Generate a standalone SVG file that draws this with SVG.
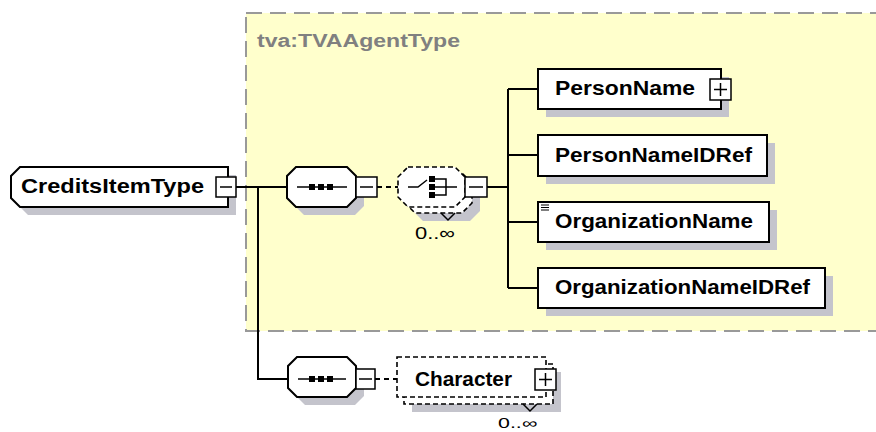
<svg xmlns="http://www.w3.org/2000/svg" width="876" height="432" viewBox="0 0 876 432">
<style>
.lbl{font-family:"Liberation Sans",Arial,sans-serif;font-weight:bold;font-size:20px;fill:#000}
.occ{font-family:"Liberation Sans",Arial,sans-serif;font-size:17px;fill:#000}
.sh{fill:#c4c4cc;stroke:none}
.box{fill:#fff;stroke:#000;stroke-width:2}
.dbox{fill:#fff;stroke:#000;stroke-width:1.6;stroke-dasharray:5 3}
.pm{fill:#fff;stroke:#000;stroke-width:1.5}
.ln{fill:none;stroke:#000;stroke-width:2}
.thin{fill:none;stroke:#000;stroke-width:1.5}
</style>
<rect width="876" height="432" fill="#fff"/>
<g id="tvaAgentType">
<rect x="246" y="13" width="700" height="318" fill="#ffffcc" stroke="#999" stroke-width="2" stroke-dasharray="16 8"/>
<text x="257" y="47" font-family="'Liberation Sans',Arial,sans-serif" font-weight="bold" font-size="18" fill="#808080" textLength="203" lengthAdjust="spacingAndGlyphs">tva:TVAAgentType</text>
</g>
<g id="connectors">
<line class="ln" x1="236" y1="187" x2="287" y2="187"/>
<path class="ln" d="M258,187 V379 H288"/>
<line class="ln" x1="377" y1="187" x2="398" y2="187" stroke-dasharray="5 4"/>
<line class="ln" x1="487" y1="187" x2="508" y2="187"/>
<path class="ln" d="M508,89 V288"/>
<line class="ln" x1="508" y1="89" x2="538" y2="89"/>
<line class="ln" x1="508" y1="155" x2="538" y2="155"/>
<line class="ln" x1="508" y1="222" x2="538" y2="222"/>
<line class="ln" x1="508" y1="288" x2="538" y2="288"/>
<line class="ln" x1="375" y1="379" x2="397" y2="379" stroke-dasharray="5 4"/>
</g>
<g id="CreditsItemType">
<polygon class="sh" points="28,175 236,175 236,215 28,215 19,206 19,184"/>
<polygon class="box" points="20,167 228,167 228,207 20,207 11,198 11,176"/>
<text class="lbl" x="21" y="193" textLength="183" lengthAdjust="spacingAndGlyphs">CreditsItemType</text>
<rect class="pm" x="216" y="177" width="20" height="20"/>
<line class="thin" x1="220" y1="187" x2="232" y2="187"/>
</g>
<g id="sequence1">
<polygon class="sh" points="304,175 355,175 364,184 364,206 355,215 304,215 295,206 295,184"/>
<polygon class="box" points="296,167 347,167 356,176 356,198 347,207 296,207 287,198 287,176"/>
<line class="thin" x1="297" y1="187" x2="347" y2="187"/>
<rect x="309" y="184" width="6" height="6"/>
<rect x="318" y="184" width="6" height="6"/>
<rect x="327" y="184" width="6" height="6"/>
<rect class="pm" x="356" y="177" width="21" height="20"/>
<line class="thin" x1="360" y1="187" x2="373" y2="187"/>
</g>
<g id="choice">
<polygon class="sh" points="423,181 470,181 480,191 480,211 470,221 423,221 413,211 413,191"/>
<polygon class="dbox" points="415,173 462,173 472,183 472,203 462,213 415,213 405,203 405,183"/>
<polygon class="dbox" points="408,167 455,167 465,177 465,197 455,207 408,207 398,197 398,177"/>
<path class="thin" d="M441,213 L448,220 L455,213"/>
<path class="thin" d="M408,187 H418 L427,180"/>
<rect x="429" y="176" width="6" height="6"/>
<rect x="429" y="184" width="6" height="6"/>
<rect x="429" y="192" width="6" height="6"/>
<path class="thin" d="M435,179 H446 V195 H435 M435,187 H457"/>
<rect class="pm" x="465" y="177" width="22" height="20"/>
<line class="thin" x1="469" y1="187" x2="483" y2="187"/>
<text class="occ" x="415" y="239" textLength="40" lengthAdjust="spacingAndGlyphs">0..∞</text>
</g>
<g id="PersonName">
<rect class="sh" x="546" y="77" width="183" height="40"/>
<rect class="box" x="538" y="69" width="183" height="40"/>
<text class="lbl" x="555" y="95" textLength="140" lengthAdjust="spacingAndGlyphs">PersonName</text>
<rect class="pm" x="710" y="79" width="21" height="21"/>
<path class="thin" d="M714,89.5 H727 M720.5,83 V96"/>
</g>
<g id="PersonNameIDRef">
<rect class="sh" x="546" y="143" width="229" height="41"/>
<rect class="box" x="538" y="135" width="229" height="41"/>
<text class="lbl" x="555" y="162" textLength="197" lengthAdjust="spacingAndGlyphs">PersonNameIDRef</text>
</g>
<g id="OrganizationName">
<rect class="sh" x="546" y="210" width="231" height="40"/>
<rect class="box" x="538" y="202" width="231" height="40"/>
<path d="M541,205 H549 M541,207.5 H549 M541,210 H549" stroke="#000" stroke-width="1" fill="none"/>
<text class="lbl" x="555" y="228" textLength="198" lengthAdjust="spacingAndGlyphs">OrganizationName</text>
</g>
<g id="OrganizationNameIDRef">
<rect class="sh" x="546" y="276" width="287" height="40"/>
<rect class="box" x="538" y="268" width="287" height="40"/>
<text class="lbl" x="555" y="294" textLength="255" lengthAdjust="spacingAndGlyphs">OrganizationNameIDRef</text>
</g>
<g id="sequence2">
<polygon class="sh" points="305,365 355,365 364,374 364,396 355,405 305,405 296,396 296,374"/>
<polygon class="box" points="297,357 347,357 356,366 356,388 347,397 297,397 288,388 288,366"/>
<line class="thin" x1="298" y1="379" x2="346" y2="379"/>
<rect x="309" y="376" width="6" height="6"/>
<rect x="318" y="376" width="6" height="6"/>
<rect x="327" y="376" width="6" height="6"/>
<rect class="pm" x="356" y="369" width="19" height="20"/>
<line class="thin" x1="359" y1="379" x2="372" y2="379"/>
</g>
<g id="Character">
<rect class="sh" x="412" y="372" width="149" height="40"/>
<rect class="dbox" x="404" y="364" width="149" height="40"/>
<rect class="dbox" x="397" y="357" width="149" height="40"/>
<path class="thin" d="M523,404 L530,411 L537,404"/>
<text class="lbl" x="415" y="386" textLength="97" lengthAdjust="spacingAndGlyphs">Character</text>
<rect class="pm" x="535" y="369" width="21" height="21"/>
<path class="thin" d="M539,379.5 H552 M545.5,373 V386"/>
<text x="498" y="428" font-family="'Liberation Sans',Arial,sans-serif" font-size="14" textLength="39" lengthAdjust="spacingAndGlyphs">0..∞</text>
</g>
</svg>
